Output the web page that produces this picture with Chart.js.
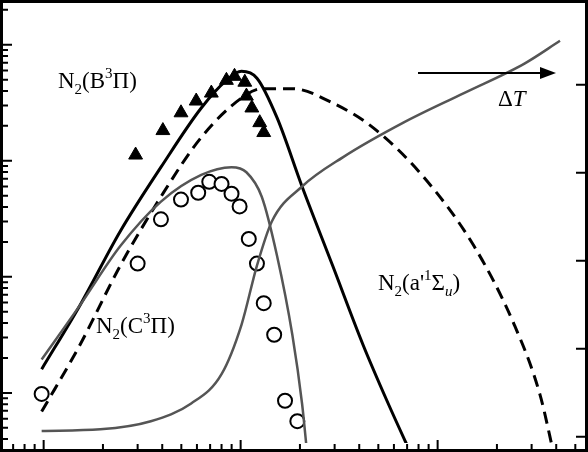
<!DOCTYPE html>
<html><head><meta charset="utf-8">
<script src="https://cdn.jsdelivr.net/npm/chart.js@4/dist/chart.umd.min.js"></script>
<style>html,body{margin:0;padding:0;background:#fff}#wrap{width:588px;height:452px}</style>
</head><body><div id="wrap"><canvas id="c"></canvas></div>
<script>
// N2(B3Pi) model curve (black solid)
const bX = [0.977, 1.53, 2.45, 3.94, 6.31, 8.47, 10.1, 12.1, 15.3, 20.5, 29.3, 41.8, 56.1, 75.3];
const bY = [1.6, 5.7, 24.7, 88, 285, 493, 589, 514, 235, 60, 12.5, 2.6, 0.81, 0.27];
// N2(a'1Sigma_u) model curve (black dashed)
const aX = [0.977, 1.53, 2.45, 3.94, 6.31, 10.1, 12.8, 18.3, 29.3, 47, 84.8, 153, 245, 330, 394];
const aY = [0.69, 2.6, 12.5, 49, 159, 347, 418, 418, 315, 193, 72.6, 18.4, 3.86, 0.98, 0.27];
// N2(C3Pi) model curve (gray)
const cX = [0.977, 1.53, 2.45, 3.94, 6.31, 8.99, 10.7, 12.8, 15.3, 18.3, 20.5, 21.8];
const cY = [1.94, 5.7, 18.4, 44.5, 75.5, 88, 79.6, 49, 15.2, 3.17, 0.81, 0.29];
// rising gray curve
const tX = [0.977, 1.94, 3.5, 5.61, 8.0, 10.1, 12.1, 14.4, 20.5, 33, 67, 136, 276, 418];
const tY = [0.47, 0.485, 0.57, 0.81, 1.45, 3.86, 12.5, 30, 60, 107, 213, 383, 688, 1080];
// measured B3Pi (triangles)
const triX = [2.93, 4.03, 4.98, 5.95, 7.1, 8.47, 9.31, 10.5, 10.7, 11.4, 12.5, 13.1];
const triY = [112, 182, 259, 327, 383, 493, 534, 475, 361, 285, 213, 175];
// measured C3Pi (dotted circles)
const cirX = [0.977, 3.0, 3.94, 4.98, 6.09, 6.93, 8.0, 8.99, 9.88, 11.0, 12.1, 13.1, 14.8, 16.8, 19.4];
const cirY = [0.98, 13, 31.3, 46.3, 53, 65.8, 63.2, 52, 40.4, 21.2, 13, 5.93, 3.17, 0.855, 0.57];

const rightTicks = [0, 1, 2, 3, 4];

function pts(xs, ys) { return xs.map((x, i) => ({x: x, y: ys[i]})); }

const deco = {
  id: 'deco',
  afterDraw(chart) {
    const ctx = chart.ctx, xs = chart.scales.x, ys = chart.scales.y, y2 = chart.scales.y2;
    const W = chart.width, H = chart.height;
    ctx.save();
    ctx.strokeStyle = '#000';
    ctx.lineWidth = 3;
    ctx.strokeRect(1.5, 1.5, W - 3, H - 3);
    ctx.lineWidth = 2;
    ctx.beginPath();
    for (let d = -1; d <= 3; d++) {
      for (let m = 1; m <= 9; m++) {
        const v = m * Math.pow(10, d);
        const py = ys.getPixelForValue(v);
        if (py > 3 && py < H - 3) { ctx.moveTo(0, py); ctx.lineTo(m === 1 ? 12 : 8, py); }
        const px = xs.getPixelForValue(v);
        if (px > 3 && px < W - 3) { ctx.moveTo(px, H); ctx.lineTo(px, H - (m === 1 ? 12 : 8)); }
      }
    }
    rightTicks.forEach(v => {
      const py = y2.getPixelForValue(v);
      ctx.moveTo(W, py); ctx.lineTo(W - 12, py);
    });
    ctx.stroke();

    // labels
    ctx.fillStyle = '#000';
    ctx.textBaseline = 'alphabetic';
    function label(x, y, parts) {
      parts.forEach(p => {
        const size = p.s ? 15 : 23;
        ctx.font = (p.i ? 'italic ' : '') + size + 'px "Liberation Serif"';
        const dy = p.s === 'sub' ? 6 : (p.s === 'sup' ? -10 : 0);
        ctx.fillText(p.t, x, y + dy);
        x += ctx.measureText(p.t).width;
      });
    }
    label(58, 88, [{t: 'N'}, {t: '2', s: 'sub'}, {t: '(B'}, {t: '3', s: 'sup'}, {t: 'Π)'}]);
    label(96, 333, [{t: 'N'}, {t: '2', s: 'sub'}, {t: '(C'}, {t: '3', s: 'sup'}, {t: 'Π)'}]);
    label(378, 290, [{t: 'N'}, {t: '2', s: 'sub'}, {t: "(a'"}, {t: '1', s: 'sup'}, {t: 'Σ'}, {t: 'u', s: 'sub', i: true}, {t: ')'}]);
    label(498, 106, [{t: 'Δ'}, {t: 'T', i: true}]);
    ctx.lineWidth = 2;
    ctx.beginPath(); ctx.moveTo(418, 73); ctx.lineTo(545, 73); ctx.stroke();
    ctx.beginPath(); ctx.moveTo(556, 73); ctx.lineTo(540, 67); ctx.lineTo(540, 79); ctx.closePath(); ctx.fill();
    ctx.restore();
  }
};

const line = (data, color, w, dash) => ({
  type: 'line', data: data, borderColor: color, borderWidth: w, borderDash: dash || [],
  pointRadius: 0, tension: 0.4, cubicInterpolationMode: 'monotone', fill: false
});

new Chart(document.getElementById('c'), {
  data: {
    datasets: [
      line(pts(tX, tY), '#555', 2.5),
      line(pts(cX, cY), '#555', 2.5),
      line(pts(aX, aY), '#000', 3, [12, 7]),
      line(pts(bX, bY), '#000', 3),
      {type: 'scatter', data: pts(triX, triY), pointStyle: 'triangle', pointRadius: 8,
       backgroundColor: '#000', borderColor: '#000'},
      {type: 'scatter', data: pts(cirX, cirY), pointStyle: 'circle', pointRadius: 7,
       backgroundColor: '#fff', borderColor: '#000', borderWidth: 2},
      {type: 'scatter', data: pts(cirX, cirY), pointStyle: 'circle', pointRadius: 1.5,
       backgroundColor: '#000', borderColor: '#000', borderWidth: 1}
    ]
  },
  options: {
    responsive: true, maintainAspectRatio: false, animation: false,
    layout: {padding: 0},
    plugins: {legend: {display: false}, tooltip: {enabled: false}},
    scales: {
      x: {type: 'logarithmic', min: 0.667, max: 522, display: false},
      y: {type: 'logarithmic', min: 0.37, max: 2030, display: false},
      y2: {type: 'linear', min: -0.07, max: 4.86, display: false, position: 'right'}
    }
  },
  plugins: [deco]
});
</script></body></html>
